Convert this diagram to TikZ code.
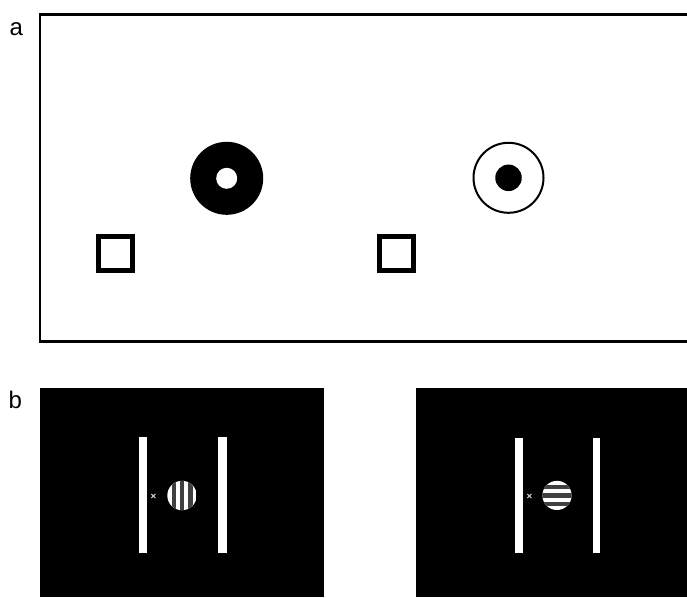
\documentclass[tikz,border=0pt]{standalone}
\usepackage{fontspec}
\setmainfont{Liberation Sans}
\begin{document}
\begin{tikzpicture}[x=1pt,y=-1pt,
  lbl/.style={font=\fontsize{24}{24}\selectfont, inner sep=0pt},
  panelbox/.style={draw=black, line width=2.5pt},
  boxmark/.style={draw=black, line width=5pt, minimum size=34pt, inner sep=0pt},
  bar/.style={fill=white, draw=none},
  screen/.style={fill=black, draw=none}]
\useasboundingbox (0,0) rectangle (687,597);
% panel a
\node[lbl] (la) at (16.3,29.5) {a};
\draw[panelbox] (687,14.5) -- (40,14.5) -- (40,341.5) -- (687,341.5);
\node[circle, fill=black, minimum size=73pt, inner sep=0pt] (ring1) at (226.7,178.3) {};
\node[circle, fill=white, minimum size=21pt, inner sep=0pt] (hole1) at (ring1.center) {};
\node[circle, draw=black, line width=2pt, minimum size=70pt, inner sep=0pt] (ring2) at (508.5,177.8) {};
\node[circle, fill=black, minimum size=26.5pt, inner sep=0pt] (dot2) at (ring2.center) {};
\node[boxmark] (sq1) at (115.5,253.2) {};
\node[boxmark] (sq2) at (396.2,253.4) {};
% panel b
\node[lbl] (lb) at (15.3,400) {b};
\fill[screen] (40,388) rectangle (324,597);
\fill[screen] (416,388) rectangle (687,597);
% left screen
\fill[bar] (139.3,437.3) rectangle (147.3,552.7);
\fill[bar] (217.7,437.3) rectangle (226.7,552.7);
\begin{scope}
  \clip (182,495.5) circle (14.7);
  \fill[white] (167,480) rectangle (197,511);
  \foreach \i in {1,3,5} {
    \fill[black!75] (167.3+\i*4.2,480) rectangle (167.3+\i*4.2+4.2,511);
  }
\end{scope}
\draw[white!80!black, line width=1pt] (151.3,494) -- (155.3,498) (151.3,498) -- (155.3,494);
% right screen
\fill[bar] (515,438.3) rectangle (522.7,552.7);
\fill[bar] (592.7,438.3) rectangle (600.3,552.7);
\begin{scope}
  \clip (557,495.4) circle (14.6);
  \fill[white] (542,480) rectangle (572,511);
  \foreach \i in {1,3,5} {
    \fill[black!75] (542,480.8+\i*4.2) rectangle (572,480.8+\i*4.2+4.2);
  }
\end{scope}
\draw[white!80!black, line width=1pt] (527.3,494) -- (531.3,498) (527.3,498) -- (531.3,494);
\end{tikzpicture}
\end{document}
